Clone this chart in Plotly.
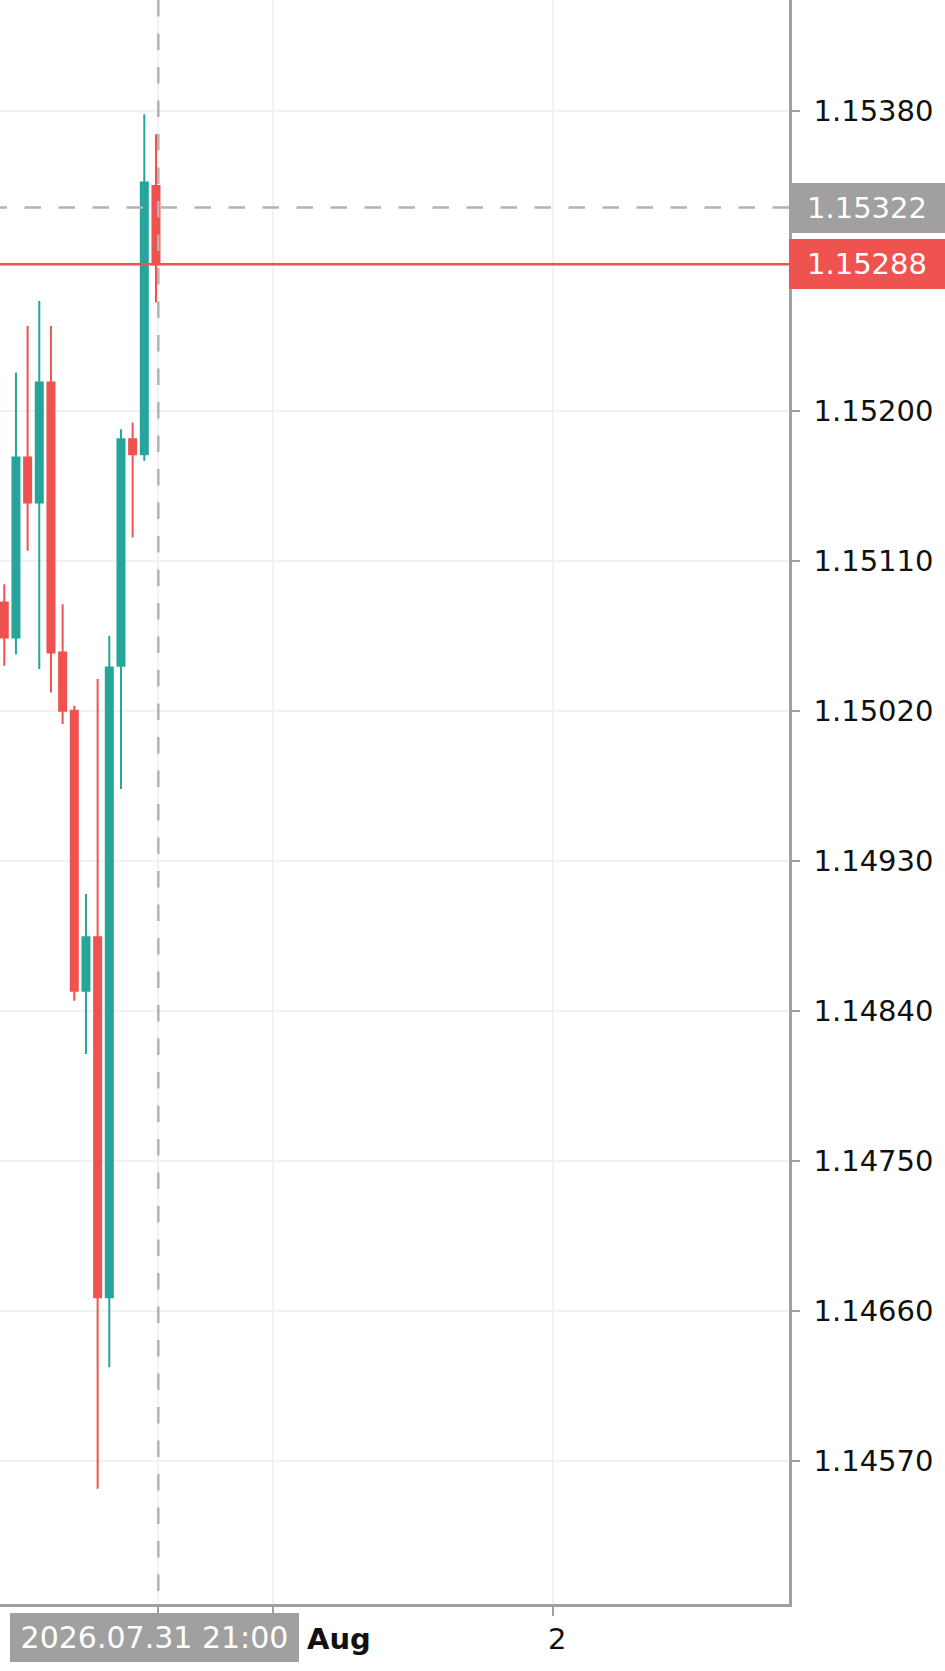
import pandas as pd
import plotly.graph_objects as go

# hourly bars, times as the broker server shows them (crosshair label)
bar_times = ["2026-07-31 08:00", "2026-07-31 09:00", "2026-07-31 10:00", "2026-07-31 11:00",
             "2026-07-31 12:00", "2026-07-31 13:00", "2026-07-31 14:00", "2026-07-31 15:00",
             "2026-07-31 16:00", "2026-07-31 17:00", "2026-07-31 18:00", "2026-07-31 19:00",
             "2026-07-31 20:00", "2026-07-31 21:00"]
opens = [1.15085, 1.15064, 1.15172, 1.15145, 1.15217, 1.15055, 1.15020,
         1.14852, 1.14884, 1.14668, 1.15047, 1.15183, 1.15174, 1.15335]
highs = [1.15096, 1.15223, 1.15251, 1.15266, 1.15251, 1.15084, 1.15023,
         1.14910, 1.15039, 1.15065, 1.15189, 1.15193, 1.15378, 1.15366]
lows = [1.15047, 1.15054, 1.15116, 1.15045, 1.15031, 1.15012, 1.14846,
        1.14814, 1.14553, 1.14626, 1.14973, 1.15124, 1.15170, 1.15265]
closes = [1.15064, 1.15172, 1.15145, 1.15217, 1.15055, 1.15020, 1.14852,
          1.14884, 1.14668, 1.15046, 1.15183, 1.15174, 1.15337, 1.15288]

cursor_price = 1.15322
cursor_offset_min = 12        # mouse sits a little right of the last bar's centre
# price scale ticks (1.15290 sits under the last-price label, so it is not drawn)
price_ticks = [1.14570, 1.14660, 1.14750, 1.14840, 1.14930, 1.15020, 1.15110, 1.15200, 1.15380]
axis_shift_hours = 7          # server is UTC+3, axis drawn in New York time
date_ticks = ["2026-08-01", "2026-08-02"]
date_labels = ["<b>Aug</b>", "2"]

UP = "#26a69a"
DOWN = "#ef5350"
GRID = "#f2f2f2"
AXIS = "#a0a0a0"
DASH = "#b3b3b3"
FONT = "DejaVu Sans"

server_t = pd.to_datetime(bar_times)
axis_t = server_t - pd.Timedelta(hours=axis_shift_hours)
cursor_t = axis_t[-1] + pd.Timedelta(minutes=cursor_offset_min)

fig = go.Figure(go.Candlestick(
    x=axis_t, open=opens, high=highs, low=lows, close=closes,
    increasing=dict(line=dict(color=UP, width=2), fillcolor=UP),
    decreasing=dict(line=dict(color=DOWN, width=2), fillcolor=DOWN),
    whiskerwidth=0, hoverinfo="skip", showlegend=False))

fig.update_layout(
    width=945, height=1671,
    margin=dict(l=0, r=156, t=0, b=67, autoexpand=False),
    paper_bgcolor="white", plot_bgcolor="white",
    boxgap=0.4, boxgroupgap=0,
    font=dict(family=FONT, color="#111111"),
)

fig.update_xaxes(
    type="date", range=["2026-07-31 00:38", "2026-08-02 20:15"],
    rangeslider_visible=False,
    tickvals=[cursor_t] + date_ticks, ticktext=["", "", ""],
    showgrid=True, gridcolor=GRID, gridwidth=1.5,
    ticks="outside", ticklen=9, tickwidth=2, tickcolor=AXIS,
    showline=True, linecolor=AXIS, linewidth=2.5,
    zeroline=False, automargin=False, fixedrange=True,
)
fig.update_yaxes(
    side="right", range=[1.144839, 1.154466],
    tickvals=price_ticks, tickformat=".5f",
    showgrid=True, gridcolor=GRID, gridwidth=1.5,
    ticks="outside", ticklen=8, tickwidth=2, tickcolor=AXIS,
    tickfont=dict(size=29, color="#111111", family=FONT),
    ticklabelstandoff=8,
    showline=True, linecolor=AXIS, linewidth=2.5,
    zeroline=False, automargin=False, fixedrange=True,
)

# last price line
fig.add_shape(type="line", xref="paper", x0=0, x1=1, yref="y", y0=closes[-1], y1=closes[-1],
              line=dict(color=DOWN, width=2.5), layer="above")
# crosshair
fig.add_shape(type="line", xref="paper", x0=1, x1=0, yref="y", y0=cursor_price, y1=cursor_price,
              line=dict(color=DASH, width=2.5, dash="16.5px,17.5px"), layer="above")
fig.add_shape(type="line", xref="x", x0=cursor_t, x1=cursor_t, yref="paper", y0=1, y1=0,
              line=dict(color=DASH, width=2.5, dash="16.5px,17px"), layer="above")

# price labels on the right scale
for price, bg in [(cursor_price, AXIS), (closes[-1], DOWN)]:
    fig.add_annotation(xref="paper", x=1, xanchor="left", yref="y", y=price, yanchor="middle",
                       text=f"{price:.5f}", showarrow=False, width=142, height=36,
                       align="center", valign="middle", bgcolor=bg, bordercolor=bg,
                       borderwidth=1, borderpad=6, font=dict(size=29, color="white", family=FONT))

# crosshair time label
fig.add_annotation(xref="x", x=cursor_t, xanchor="center", xshift=-4, yref="paper", y=0,
                   yanchor="top", yshift=-9, showarrow=False,
                   text=server_t[-1].strftime("%Y.%m.%d %H:%M"), width=275, height=35,
                   align="center", valign="middle", bgcolor=AXIS, bordercolor=AXIS,
                   borderwidth=1, borderpad=6, font=dict(size=30, color="white", family=FONT))

# date labels
for d, lab in zip(date_ticks, date_labels):
    first = lab == date_labels[0]
    fig.add_annotation(xref="x", x=d, xanchor="left" if first else "center",
                       xshift=32 if first else 4, yref="paper", y=0, yanchor="middle",
                       yshift=-35, showarrow=False, text=lab,
                       font=dict(size=29, color="#111111", family=FONT))

fig.write_html("out.html", config={"displayModeBar": False},
               post_script="document.body.style.margin='0';document.body.style.overflow='hidden';")
